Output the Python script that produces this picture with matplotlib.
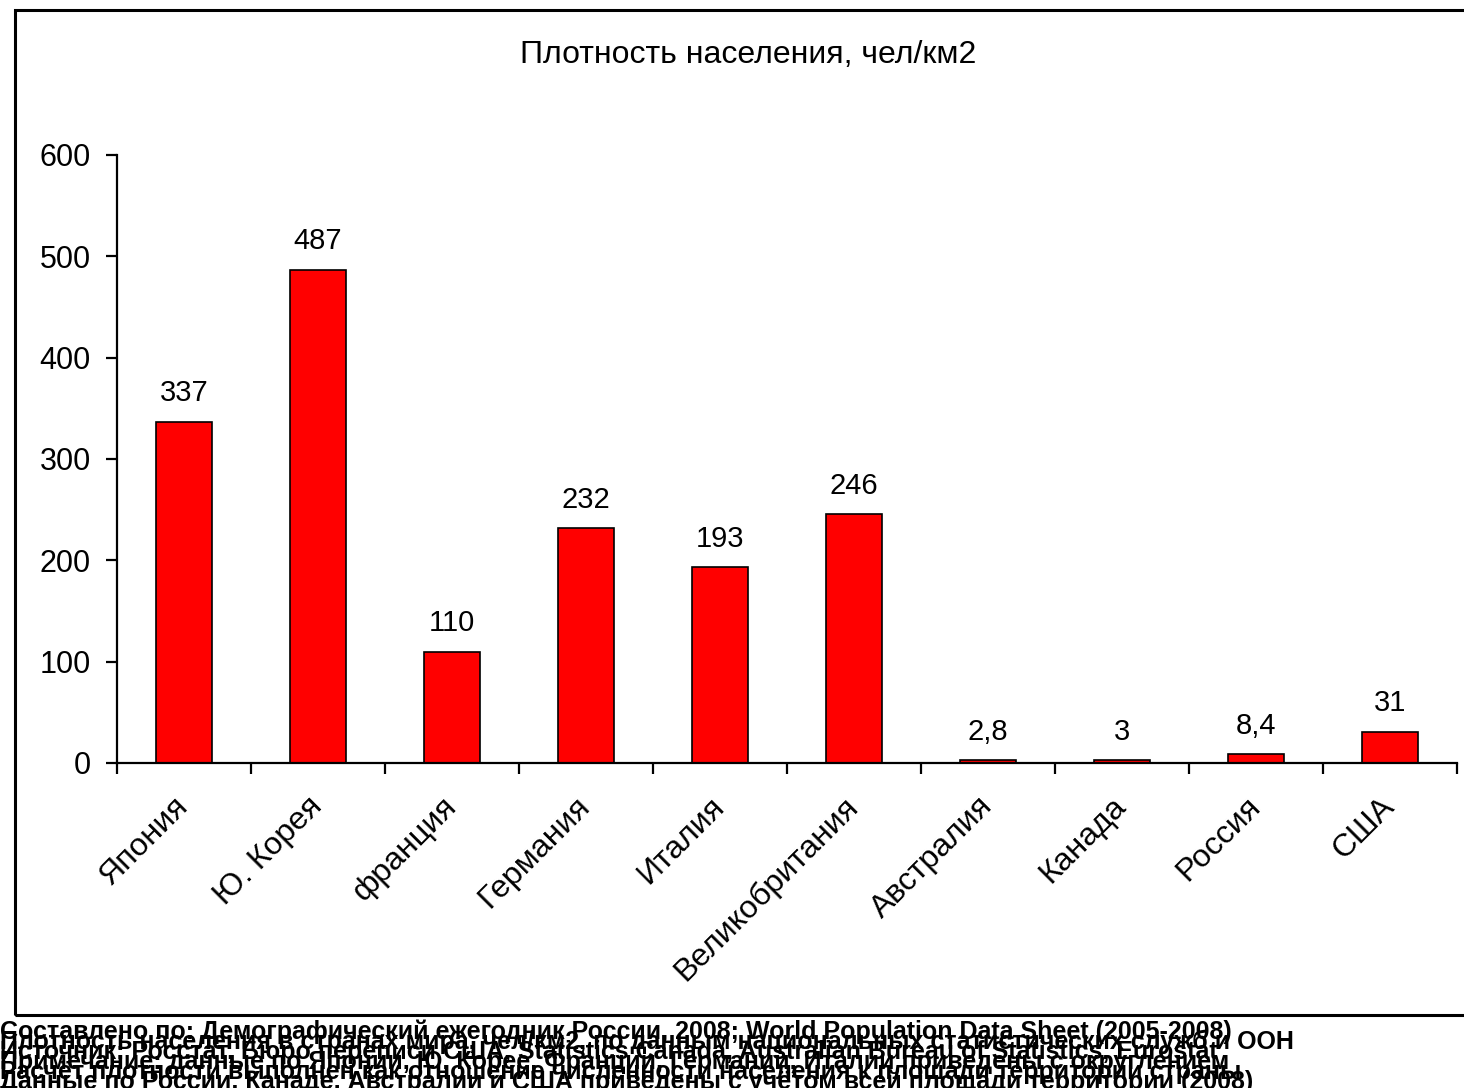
import numpy as np
import matplotlib.pyplot as plt
from matplotlib.patches import Rectangle

plt.rcParams['font.family'] = ['Liberation Sans', 'DejaVu Sans']
plt.rcParams['font.size'] = 21

countries = ['Япония', 'Ю. Корея', 'франция', 'Германия', 'Италия',
             'Великобритания', 'Австралия', 'Канада', 'Россия', 'США']
density = [337, 487, 110, 232, 193, 246, 2.8, 3, 8.4, 31]
value_labels = ['337', '487', '110', '232', '193', '246', '2,8', '3', '8,4', '31']
yticks = [0, 100, 200, 300, 400, 500, 600]

source_lines = [
    'Составлено по: Демографический ежегодник России, 2008; World Population Data Sheet (2005-2008)',
    'Плотность населения в странах мира, чел/км2, по данным национальных статистических служб и ООН',
    'Источник: Росстат, Бюро переписи США, Statistics Canada, Australian Bureau of Statistics, Eurostat',
    'Примечание: данные по Японии, Ю. Корее, Франции, Германии, Италии приведены с округлением',
    'Расчёт плотности выполнен как отношение численности населения к площади территории страны',
    'Данные по России, Канаде, Австралии и США приведены с учётом всей площади территории (2008)',
]

fig = plt.figure(figsize=(14.64, 10.88), dpi=100)
ax = fig.add_axes([117 / 1464, 1 - 763 / 1088, 1340 / 1464, 608 / 1088])

x = np.arange(len(countries))
ax.bar(x, density, width=0.42, color='#ff0000', edgecolor='black', linewidth=1.2)

for xi, v, lab in zip(x, density, value_labels):
    ax.text(xi, v + 14, lab, ha='center', va='bottom', fontsize=21)

ax.set_xlim(-0.5, len(countries) - 0.5)
ax.set_ylim(0, 600)
ax.set_yticks(yticks)
ax.set_xticks(np.arange(len(countries) + 1) - 0.5)
ax.set_xticklabels([])
ax.tick_params(axis='both', direction='out', length=8, width=1.6, color='black')
ax.tick_params(axis='y', pad=11, labelsize=22)
for s in ['top', 'right']:
    ax.spines[s].set_visible(False)
for s in ['left', 'bottom']:
    ax.spines[s].set_linewidth(1.6)

for xi, name in zip(x, countries):
    ax.text(xi - 0.08, -28, name, rotation=45, ha='right', va='top',
            rotation_mode='anchor', fontsize=23)

fig.text(748 / 1464, 1 - 55 / 1088, 'Плотность населения, чел/км2',
         ha='center', va='center', fontsize=23)

fig.patches.append(Rectangle((15 / 1464, 1 - 1015 / 1088), 1.1, 1005 / 1088,
                             transform=fig.transFigure, fill=False,
                             edgecolor='black', linewidth=2.2))

# overlapping source notes at the bottom
for i, line in enumerate(source_lines):
    fig.text(0.0, 1 - (1032 + i * 10) / 1088, line, ha='left', va='center',
             fontsize=18, fontweight='bold', color='black')

fig.savefig('out.png', dpi=100)
